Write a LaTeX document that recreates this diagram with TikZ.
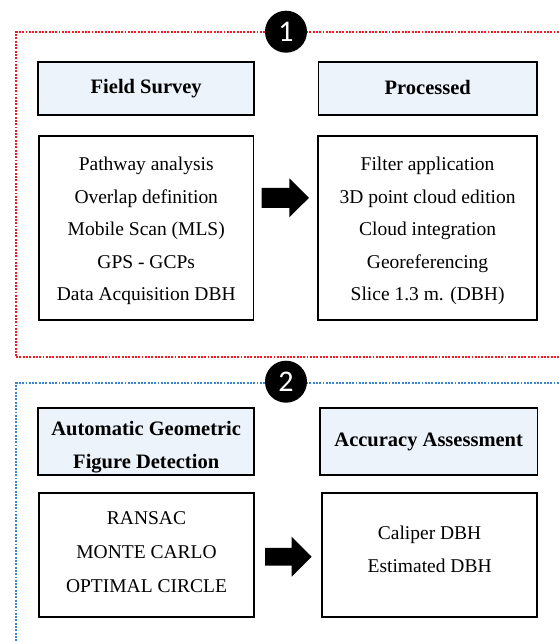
\documentclass[tikz,border=0pt]{standalone}
\usepackage{fontspec}
\setmainfont{Liberation Serif}
\newfontfamily\numfont{Carlito}
\definecolor{hdrfill}{HTML}{EDF3FA}
\definecolor{redline}{HTML}{EE1C24}
\definecolor{blueline}{HTML}{3A86D0}
\begin{document}
\begin{tikzpicture}[x=1pt,y=-1pt,
 hdr/.style={draw=black, line width=1.9pt, fill=hdrfill, inner sep=0pt},
 hdrtext/.style={font=\fontsize{20.5}{33}\selectfont\bfseries, align=center, inner sep=0pt},
 lst/.style={draw=black, line width=1.9pt, fill=white, inner sep=0pt},
 lsttext/.style={font=\fontsize{19.5}{32.5}\selectfont, align=center, inner sep=0pt},
 num/.style={circle, fill=black, minimum size=42pt, inner sep=0pt, text=white, font=\fontsize{30}{30}\selectfont\numfont},
 dotline/.style={line width=2.1pt, dash pattern=on 1.9pt off 1.4pt},
 bigarrow/.style={fill=black}
]
\useasboundingbox (0,0) rectangle (559,641);

% section frames
\draw[dotline, draw=redline] (562,32.3) -| (16,357.3) -- (562,357.3);
\draw[dotline, draw=blueline] (562,383.3) -| (16,645);

\node[num] (n1) at (286,31.7) {1};
\node[num] (n2) at (286,381.7) {2};

% section 1
\node[hdr, minimum width=215.7pt, minimum height=53pt] (fs) at (146.2,88.5) {};
\node[hdrtext] (fst) at (fs.center) {Field Survey};
\node[hdr, minimum width=218.5pt, minimum height=53pt] (pr) at (427.75,88.8) {};
\node[hdrtext] (prt) at ([yshift=1pt]pr.center) {Processed};

\node[lst, minimum width=214.5pt, minimum height=184pt] (fl) at (146.25,228) {};
\node[lsttext] (flt) at ([yshift=-3pt]fl.center) {Pathway analysis\\Overlap definition\\Mobile Scan (MLS)\\GPS - GCPs\\Data Acquisition DBH};
\node[lst, minimum width=218.5pt, minimum height=184pt] (pl) at (427.6,228) {};
\node[lsttext] (plt) at ([yshift=-3pt]pl.center) {Filter application\\3D point cloud edition\\Cloud integration\\Georeferencing\\Slice 1.3 m. (DBH)};

\coordinate (a1) at (261.7,197.8);
\fill[bigarrow] (a1) -- ++(0,-10) -- ++(27.6,0) -- ++(0,-9.5) -- ++(19.7,19.5) -- ++(-19.7,19.5) -- ++(0,-9.5) -- ++(-27.6,0) -- cycle;

% section 2
\node[hdr, minimum width=215.7pt, minimum height=67pt] (ag) at (146.2,441.5) {};
\node[hdrtext] (agt) at ([yshift=-6pt]ag.center) {Automatic Geometric\\Figure Detection};
\node[hdr, minimum width=217.5pt, minimum height=67pt] (aa) at (428.7,441.5) {};
\node[hdrtext] (aat) at (aa.center) {Accuracy Assessment};

\node[lst, minimum width=215pt, minimum height=123.4pt] (rl) at (146.5,555) {};
\node[lsttext, font=\fontsize{19.5}{33.8}\selectfont] (rlt) at ([yshift=3pt]rl.center) {RANSAC\\MONTE CARLO\\OPTIMAL CIRCLE};
\node[lst, minimum width=214.7pt, minimum height=123.4pt] (cl) at (429.6,555) {};
\node[lsttext, font=\fontsize{19.5}{33}\selectfont] (clt) at ([yshift=5.5pt]cl.center) {Caliper DBH\\Estimated DBH};

\coordinate (a2) at (265,556.7);
\fill[bigarrow] (a2) -- ++(0,-8.9) -- ++(26.7,0) -- ++(0,-11.1) -- ++(20,20) -- ++(-20,20) -- ++(0,-11.1) -- ++(-26.7,0) -- cycle;
\end{tikzpicture}
\end{document}
